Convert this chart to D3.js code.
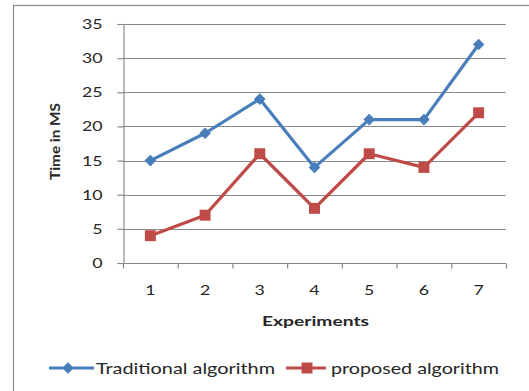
<!DOCTYPE html>
<html>
<head>
<meta charset="utf-8">
<script src="https://cdn.jsdelivr.net/npm/d3@7"></script>
<style>
  html, body { margin: 0; padding: 0; background: #fff; }
  svg { display: block; }
  text { font-family: Lato, "Open Sans", "DejaVu Sans", sans-serif; fill: #262626; }
</style>
</head>
<body>
<svg id="chart" width="529" height="391"></svg>
<script>
// Experiment numbers along the x axis
const experiments = ["1", "2", "3", "4", "5", "6", "7"];
// Running time (ms) for each algorithm
const traditional = [15, 19, 24, 14, 21, 21, 32];
const proposed = [4, 7, 16, 8, 16, 14, 22];
// Value axis ticks
const yTicks = [0, 5, 10, 15, 20, 25, 30, 35];
const seriesNames = ["Traditional algorithm", "proposed algorithm"];

const W = 529, H = 391;
const plot = { left: 123, right: 506, top: 24, bottom: 263 };
const blue = "#4a7ebb", red = "#be4b48", gridColor = "#8a8a8a";
const digitW = 10.3; // wide-set digits

const svg = d3.select("#chart");

// Outer chart frame (runs off the right and bottom edges)
svg.append("rect")
  .attr("x", 13.5).attr("y", 5.5)
  .attr("width", W + 20).attr("height", H + 20)
  .attr("fill", "#fff").attr("stroke", "#8c8c8c").attr("stroke-width", 1.2);

const x = d3.scaleBand().domain(experiments).range([plot.left, plot.right]);
const y = d3.scaleLinear().domain([0, 35]).range([plot.bottom, plot.top]);

// Horizontal gridlines
svg.append("g")
  .selectAll("line")
  .data(yTicks.filter(d => d > 0))
  .join("line")
  .attr("x1", plot.left).attr("x2", plot.right)
  .attr("y1", d => Math.round(y(d)) + 0.5).attr("y2", d => Math.round(y(d)) + 0.5)
  .attr("stroke", gridColor).attr("stroke-width", 1.2);

// Y axis
const yAxis = svg.append("g")
  .attr("transform", `translate(${plot.left + 0.5},0)`)
  .call(d3.axisLeft(y).tickValues(yTicks).tickSize(6).tickPadding(15));
yAxis.select(".domain").attr("stroke", gridColor).attr("stroke-width", 1.2);
yAxis.selectAll(".tick line").attr("stroke", gridColor).attr("stroke-width", 1.2);
yAxis.selectAll(".tick text")
  .attr("font-size", 14).attr("fill", "#333")
  .attr("textLength", d => String(d).length * digitW)
  .attr("lengthAdjust", "spacingAndGlyphs")
  .style("font-family", "Lato, 'Open Sans', sans-serif");

// X axis: ticks on category boundaries
const xAxisG = svg.append("g").attr("transform", `translate(0,${plot.bottom + 0.5})`);
const boundaries = experiments.map(d => x(d)).concat([plot.right]);
xAxisG.append("line")
  .attr("x1", plot.left).attr("x2", plot.right)
  .attr("stroke", gridColor).attr("stroke-width", 1.2);
xAxisG.selectAll("line.tick")
  .data(boundaries)
  .join("line").attr("class", "tick")
  .attr("x1", d => d + 0.5).attr("x2", d => d + 0.5)
  .attr("y1", 0).attr("y2", 5)
  .attr("stroke", gridColor).attr("stroke-width", 1.2);
xAxisG.selectAll("text")
  .data(experiments)
  .join("text")
  .attr("x", d => x(d) + x.bandwidth() / 2)
  .attr("y", 31)
  .attr("text-anchor", "middle")
  .attr("font-size", 14)
  .attr("fill", "#333")
  .attr("textLength", digitW)
  .attr("lengthAdjust", "spacingAndGlyphs")
  .text(d => d);

// Axis titles
svg.append("text")
  .attr("x", 262)
  .attr("y", 326)
  .attr("font-size", 14).attr("font-weight", "bold")
  .attr("textLength", 107).attr("lengthAdjust", "spacingAndGlyphs")
  .text("Experiments");

svg.append("text")
  .attr("transform", `translate(60,180) rotate(-90)`)
  .attr("font-size", 14).attr("font-weight", "bold")
  .attr("textLength", 77).attr("lengthAdjust", "spacingAndGlyphs")
  .text("Time in MS");

// Series lines and markers (diamond = square turned 45°)
const cx = d => x(d) + x.bandwidth() / 2;
const line = d3.line().x(d => cx(d.k)).y(d => y(d.v));
const series = [
  { name: seriesNames[0], color: blue, values: traditional, shape: d3.symbolSquare, size: 68, rot: 45 },
  { name: seriesNames[1], color: red, values: proposed, shape: d3.symbolSquare, size: 120, rot: 0 }
];

series.forEach(s => {
  const pts = s.values.map((v, i) => ({ k: experiments[i], v }));
  svg.append("path")
    .datum(pts)
    .attr("d", line)
    .attr("fill", "none")
    .attr("stroke", s.color).attr("stroke-width", 3.2)
    .attr("stroke-linejoin", "round");
  svg.append("g")
    .selectAll("path")
    .data(pts)
    .join("path")
    .attr("transform", d => `translate(${cx(d.k)},${y(d.v)}) rotate(${s.rot})`)
    .attr("d", d3.symbol().type(s.shape).size(s.size))
    .attr("fill", s.color);
});

// Legend
const legendY = 368;
const legendItems = [
  { s: series[0], x0: 49, len: 45, mx: 68, tx: 96, tw: 179 },
  { s: series[1], x0: 286, len: 40, mx: 307, tx: 331, tw: 168 }
];
legendItems.forEach(({ s, x0, len, mx, tx, tw }) => {
  const g = svg.append("g");
  g.append("line")
    .attr("x1", x0).attr("x2", x0 + len)
    .attr("y1", legendY).attr("y2", legendY)
    .attr("stroke", s.color).attr("stroke-width", 3.2);
  g.append("path")
    .attr("transform", `translate(${mx},${legendY}) rotate(${s.rot})`)
    .attr("d", d3.symbol().type(s.shape).size(s.size))
    .attr("fill", s.color);
  g.append("text")
    .attr("x", tx).attr("y", legendY + 6)
    .attr("font-size", 16)
    .attr("fill", "#333")
    .attr("textLength", tw).attr("lengthAdjust", "spacingAndGlyphs")
    .text(s.name);
});
</script>
</body>
</html>
